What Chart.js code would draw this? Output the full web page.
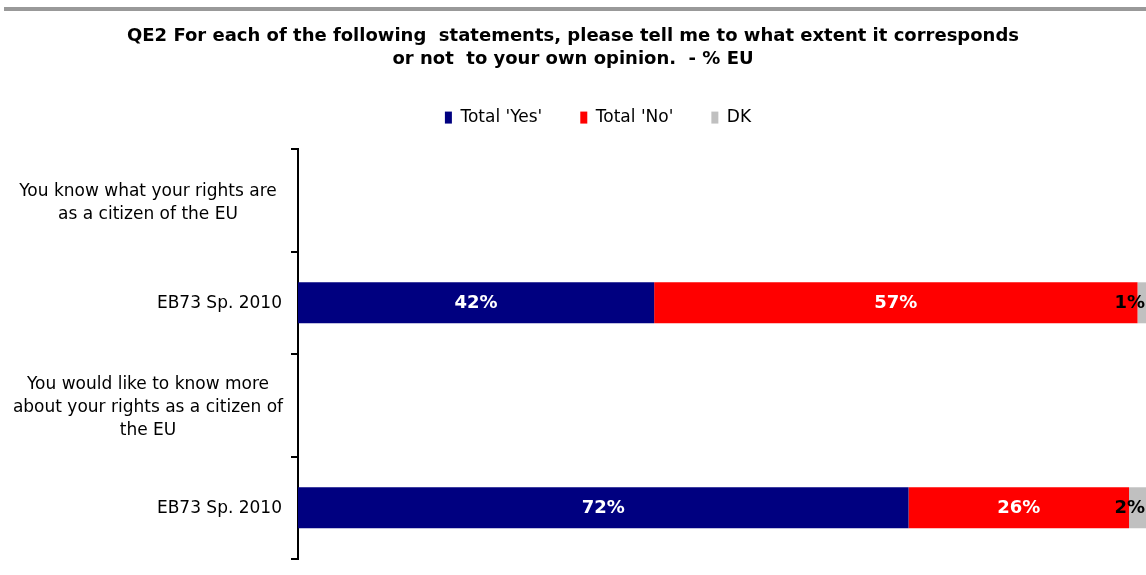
<!DOCTYPE html>
<html>
<head>
<meta charset="utf-8">
<script src="https://cdn.jsdelivr.net/npm/chart.js@4.4.0/dist/chart.umd.min.js"></script>
<style>
  body { margin: 0; background: #fff; }
  #topLine { position: absolute; left: 4px; top: 7px; width: 1142px; height: 4px; background: #999; }
  #wrap { position: absolute; left: 0; top: 0; width: 1146px; height: 575px; }
</style>
</head>
<body>
<div id="topLine"></div>
<div id="wrap"><canvas id="chart"></canvas></div>
<script>
// chart data
const categories = [
  ["You know what your rights are", "as a citizen of the EU"],
  ["EB73 Sp. 2010"],
  ["You would like to know more", "about your rights as a citizen of", "the EU"],
  ["EB73 Sp. 2010"]
];
const seriesNames = ["Total 'Yes'", "Total 'No'", "DK"];
const yesValues = [null, 42, null, 72];
const noValues = [null, 57, null, 26];
const dkValues = [null, 1, null, 2];

const fontFamily = "'DejaVu Sans', Verdana, sans-serif";

// draws the % labels inside the bars
const barLabels = {
  id: "barLabels",
  afterDatasetsDraw(chart) {
    const ctx = chart.ctx;
    const area = chart.chartArea;
    ctx.save();
    ctx.font = "bold 18px " + fontFamily;
    ctx.textBaseline = "middle";
    chart.data.datasets.forEach((ds, d) => {
      const meta = chart.getDatasetMeta(d);
      meta.data.forEach((bar, i) => {
        const v = ds.data[i];
        if (v == null) return;
        if (d == 2) {
          ctx.fillStyle = "#000";
          ctx.textAlign = "right";
          ctx.fillText(v + "%", area.right - 1, bar.y + 1);
        } else {
          ctx.fillStyle = "#fff";
          ctx.textAlign = "center";
          ctx.fillText(v + "%", (bar.x + bar.base) / 2, bar.y + 1);
        }
      });
    });
    ctx.restore();
  }
};

// category labels: statements centred, wave labels right aligned
const categoryLabels = {
  id: "categoryLabels",
  afterDraw(chart) {
    const ctx = chart.ctx;
    const yScale = chart.scales.y;
    ctx.save();
    ctx.font = "17px " + fontFamily;
    ctx.fillStyle = "#000";
    ctx.textBaseline = "middle";
    categories.forEach((lines, i) => {
      const y = yScale.getPixelForTick(i);
      const lineH = 23;
      const top = y - (lines.length - 1) * lineH / 2 + (lines.length > 1 ? 2.5 : 1);
      lines.forEach((t, k) => {
        if (lines.length > 1) {
          ctx.textAlign = "center";
          ctx.fillText(t, 148, top + k * lineH);
        } else {
          ctx.textAlign = "right";
          ctx.fillText(t, 282, top + k * lineH);
        }
      });
    });
    ctx.restore();
  }
};

// legend sits a bit right of the page centre in the original
const legendShift = {
  id: "legendShift",
  afterLayout(chart) {
    chart.legend.left += 25;
    chart.legend.right += 25;
  }
};

const ctx = document.getElementById("chart").getContext("2d");
const myChart = new Chart(ctx, {
  type: "bar",
  data: {
    labels: categories,
    datasets: [
      { label: seriesNames[0], data: yesValues, backgroundColor: "#000080" },
      { label: seriesNames[1], data: noValues, backgroundColor: "#ff0000" },
      { label: seriesNames[2], data: dkValues, backgroundColor: "#c0c0c0" }
    ]
  },
  options: {
    indexAxis: "y",
    responsive: true,
    maintainAspectRatio: false,
    animation: false,
    layout: { padding: { left: 0, right: 0, top: 0, bottom: 16 } },
    datasets: {
      bar: { categoryPercentage: 1, barPercentage: 0.4, borderWidth: 0 }
    },
    scales: {
      // invisible top axis only used as a spacer under the legend
      x: {
        position: "top",
        stacked: true,
        min: 0,
        max: 100,
        grid: { display: false },
        border: { display: false },
        ticks: { display: false },
        afterFit: (scale) => { scale.height = 13; }
      },
      y: {
        stacked: true,
        afterFit: (scale) => { scale.width = 298; },
        border: { color: "#000", width: 2 },
        grid: { drawOnChartArea: false, drawTicks: true, tickLength: 7, color: "#000", lineWidth: 2, offset: true },
        ticks: { callback: () => "" }
      }
    },
    plugins: {
      tooltip: { enabled: false },
      title: {
        display: true,
        text: [
          "QE2 For each of the following  statements, please tell me to what extent it corresponds",
          "or not  to your own opinion.  - % EU"
        ],
        color: "#000",
        font: { family: fontFamily, size: 18, weight: "bold", lineHeight: 1.28 },
        padding: { top: 25, bottom: 0 }
      },
      legend: {
        labels: {
          color: "#000",
          boxWidth: 7,
          boxHeight: 12,
          padding: 38,
          font: { family: fontFamily, size: 17 }
        }
      }
    }
  },
  plugins: [barLabels, categoryLabels, legendShift]
});
</script>
</body>
</html>
